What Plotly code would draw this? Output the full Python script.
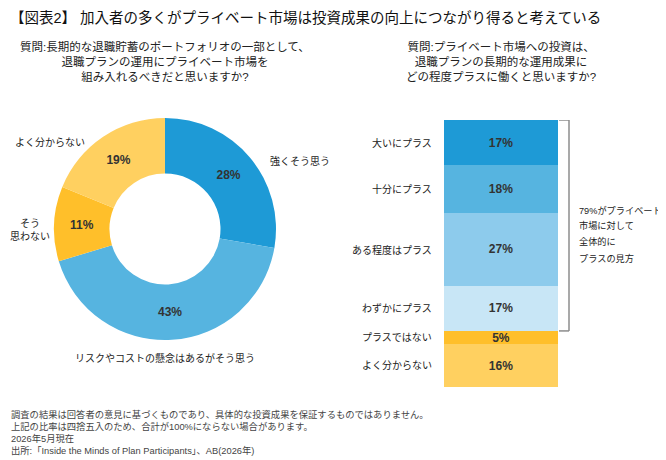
import plotly.graph_objects as go

W, H = 666, 460
OX, OY = 8, 8  # page body margin offset in the browser photo
FONT = "Liberation Sans, Noto Sans CJK JP, sans-serif"

# ---- data ----
pie_labels = ["強くそう思う", "リスクやコストの懸念はあるがそう思う", "そう思わない", "よく分からない"]
pie_values = [28, 43, 11, 19]
pie_colors = ["#1E9AD6", "#56B4E0", "#FFBF2A", "#FFD060"]

bar_labels = ["大いにプラス", "十分にプラス", "ある程度はプラス", "わずかにプラス", "プラスではない", "よく分からない"]
bar_values = [17, 18, 27, 17, 5, 16]
bar_colors = ["#1E9AD6", "#56B4E0", "#8DCBEC", "#C8E6F6", "#FFBF2A", "#FFD060"]

title_text = "【図表2】 加入者の多くがプライベート市場は投資成果の向上につながり得ると考えている"
left_q = "質問:長期的な退職貯蓄のポートフォリオの一部として、<br>退職プランの運用にプライベート市場を<br>組み入れるべきだと思いますか?"
right_q = "質問:プライベート市場への投資は、<br>退職プランの長期的な運用成果に<br>どの程度プラスに働くと思いますか?"
bracket_lines = ["79%がプライベート", "市場に対して", "全体的に", "プラスの見方"]
footnotes = [
    "調査の結果は回答者の意見に基づくものであり、具体的な投資成果を保証するものではありません。",
    "上記の比率は四捨五入のため、合計が100%にならない場合があります。",
    "2026年5月現在",
    "出所:「Inside the Minds of Plan Participants」、AB(2026年)",
]

def px(x):
    return max(0.0, (x - OX) / W)

def py(y):
    return min(1.0, 1 - (y - OY) / H)

fig = go.Figure()

# ---- donut ----
cx, cy, r = 165, 229, 111
fig.add_trace(go.Pie(
    labels=pie_labels, values=pie_values, hole=0.5, sort=False, direction="clockwise",
    rotation=0, marker=dict(colors=pie_colors, line=dict(width=0)),
    text=[f"<b>{v}%</b>" for v in pie_values], textinfo="text", textposition="inside",
    insidetextorientation="horizontal",
    textfont=dict(family=FONT, size=12, color="#333333"),
    domain=dict(x=[px(cx - r), px(cx + r)], y=[py(cy + r), py(cy - r)]),
    showlegend=False, hoverinfo="label+percent",
))

# ---- stacked bar (bottom to top) ----
order = list(range(len(bar_values)))[::-1]
for i in order:
    fig.add_trace(go.Bar(
        x=[0], y=[bar_values[i]], width=1, name=bar_labels[i],
        marker=dict(color=bar_colors[i], line=dict(width=0)),
        text=[f"<b>{bar_values[i]}%</b>"], textposition="inside", insidetextanchor="middle",
        textfont=dict(family=FONT, size=12, color="#333333"),
        xaxis="x", yaxis="y", showlegend=False, cliponaxis=False,
    ))

y_bot, y_top = 387, 120
fig.update_layout(
    barmode="stack",
    uniformtext=dict(minsize=12, mode="show"),
    xaxis=dict(domain=[px(444), px(558)], range=[-0.5, 0.5], visible=False, fixedrange=True),
    yaxis=dict(domain=[py(y_bot), py(y_top)], range=[0, sum(bar_values)], visible=False, fixedrange=True),
)

LBL = dict(family=FONT, size=10, color="#222222")
annotations = []
# category labels
cum = 0
mids = {}
for i in order:
    mids[i] = cum + bar_values[i] / 2
    cum += bar_values[i]
for i in range(len(bar_labels)):
    annotations.append(dict(x=px(434), xref="paper", y=mids[i], yref="y", text=bar_labels[i],
                            showarrow=False, xanchor="right", yanchor="middle", font=LBL))

# bracket over positive categories
pos_bottom = bar_values[5] + bar_values[4]
pos_top = sum(bar_values)
bx, bt = px(569), px(559)
for (x0, x1, y0, y1) in [(bx, bx, pos_bottom, pos_top), (bt, bx, pos_top, pos_top), (bt, bx, pos_bottom, pos_bottom)]:
    fig.add_shape(type="line", xref="paper", yref="y", x0=x0, x1=x1, y0=y0, y1=y1,
                  line=dict(color="#8C8C8C", width=1.5))
for k, line in enumerate(bracket_lines):
    annotations.append(dict(x=px(577), xref="paper", y=py(210 + 16 * k), yref="paper", text=line,
                            showarrow=False, xanchor="left", yanchor="middle",
                            font=dict(family=FONT, size=9.2, color="#222222")))

# donut outer labels
outer = [
    dict(x=px(268), y=py(161), text=pie_labels[0], xanchor="left"),
    dict(x=px(165), y=py(358), text=pie_labels[1], xanchor="center"),
    dict(x=px(30), y=py(230), text="そう<br>思わない", xanchor="center"),
    dict(x=px(50), y=py(142), text=pie_labels[3], xanchor="center"),
]
for a in outer:
    a.update(xref="paper", yref="paper", showarrow=False, yanchor="middle", font=LBL)
annotations += outer

# title, questions
annotations.append(dict(x=px(9), y=1.0, xref="paper", yref="paper", text=title_text, showarrow=False,
                        xanchor="left", yanchor="top", borderpad=0,
                        font=dict(family=FONT, size=14.5, color="#111111")))
annotations.append(dict(x=px(165), y=py(62), xref="paper", yref="paper", text=left_q, showarrow=False,
                        xanchor="center", yanchor="middle", align="center",
                        font=dict(family=FONT, size=11.5, color="#222222")))
annotations.append(dict(x=px(501), y=py(62), xref="paper", yref="paper", text=right_q, showarrow=False,
                        xanchor="center", yanchor="middle", align="center",
                        font=dict(family=FONT, size=11.5, color="#222222")))
annotations.append(dict(x=px(9), y=py(432), xref="paper", yref="paper", text="<br>".join(footnotes),
                        showarrow=False, xanchor="left", yanchor="middle", align="left",
                        font=dict(family=FONT, size=9.3, color="#444444")))

fig.update_layout(
    width=W, height=H, margin=dict(l=0, r=0, t=0, b=0),
    paper_bgcolor="white", plot_bgcolor="white",
    annotations=annotations, font=dict(family=FONT),
)

fig.write_html("out.html")
